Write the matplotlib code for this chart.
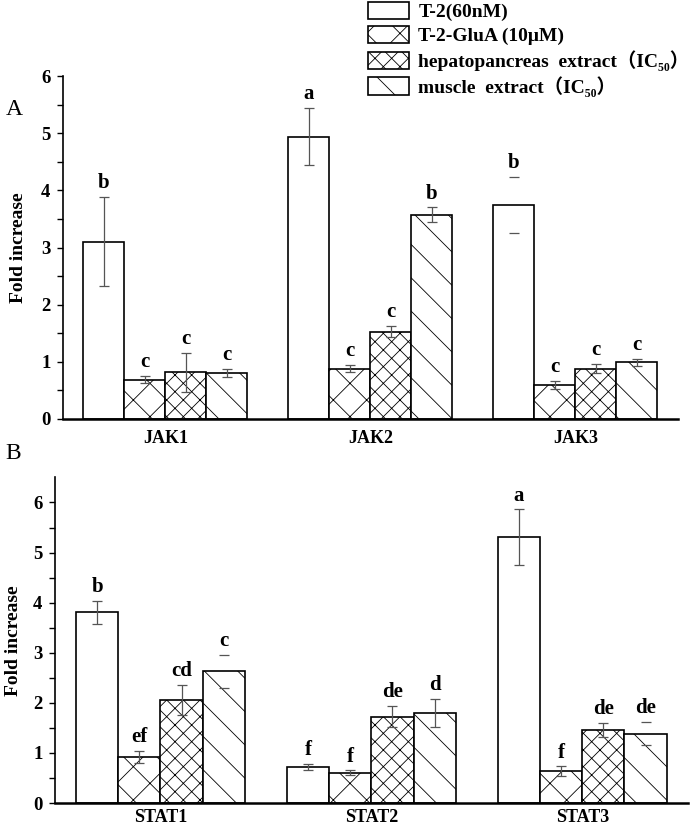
import matplotlib
matplotlib.use('Agg')
import matplotlib.pyplot as plt
import numpy as np

plt.rcParams['font.family'] = ['Liberation Serif', 'Noto Sans CJK SC', 'DejaVu Sans']
plt.rcParams['font.weight'] = 'bold'
plt.rcParams['hatch.linewidth'] = 0.6

series = ['T-2(60nM)', 'T-2-GluA (10μM)',
          'hepatopancreas  extract（IC₅₀）', 'muscle  extract（IC₅₀）']
hatches = ['', 'x', 'xx', '\\']

# panel A
genes_a = ['JAK1', 'JAK2', 'JAK3']
t2_a = [3.10, 4.94, 3.74]
glua_a = [0.69, 0.88, 0.60]
hep_a = [0.82, 1.53, 0.88]
mus_a = [0.80, 3.57, 0.99]
t2_a_err = [0.78, 0.50, 0.49]
glua_a_err = [0.06, 0.06, 0.07]
hep_a_err = [0.34, 0.10, 0.08]
mus_a_err = [0.07, 0.13, 0.06]
t2_a_let = ['b', 'a', 'b']
glua_a_let = ['c', 'c', 'c']
hep_a_let = ['c', 'c', 'c']
mus_a_let = ['c', 'b', 'c']

# panel B
genes_b = ['STAT1', 'STAT2', 'STAT3']
t2_b = [3.81, 0.72, 5.31]
glua_b = [0.92, 0.60, 0.63]
hep_b = [2.05, 1.72, 1.45]
mus_b = [2.63, 1.80, 1.38]
t2_b_err = [0.23, 0.06, 0.55]
glua_b_err = [0.12, 0.05, 0.10]
hep_b_err = [0.30, 0.21, 0.14]
mus_b_err = [0.33, 0.28, 0.23]
t2_b_let = ['b', 'f', 'a']
glua_b_let = ['ef', 'f', 'f']
hep_b_let = ['cd', 'de', 'de']
mus_b_let = ['c', 'd', 'de']

# error bars where only the caps show in the original
caps_only_a = [(0, 2)]
caps_only_b = [(3, 0), (3, 2)]

fig = plt.figure(figsize=(6.9, 8.3), dpi=100)
ax1 = fig.add_axes([0.0913, 0.4952, 0.8913, 0.4132])
ax2 = fig.add_axes([0.0797, 0.0325, 0.917, 0.3923])


def draw(ax, genes, vals, errs, lets, caps_only, ymax, xpad, ylpad):
    x = np.arange(len(genes))
    w = 0.2
    for i in range(4):
        xs = x + (i - 1.5) * w
        ax.bar(xs, vals[i], w, color='white', edgecolor='black',
               linewidth=1.2, hatch=hatches[i], zorder=2)
        for j in range(len(genes)):
            lw = 0 if (i, j) in caps_only else 0.9
            ax.errorbar(xs[j], vals[i][j], yerr=errs[i][j], fmt='none',
                        ecolor='#555555', elinewidth=lw, capsize=3.5,
                        capthick=0.9, zorder=3)
            ax.annotate(lets[i][j], (xs[j], vals[i][j] + errs[i][j]),
                        xytext=(0, 10), textcoords='offset points',
                        ha='center', va='center', fontsize=15,
                        fontweight='bold')
    ax.set_xlim(-0.5, 2.5)
    ax.set_ylim(0, ymax)
    ax.set_xticks(x)
    ax.set_xticklabels(genes, fontsize=13, fontweight='bold')
    ax.tick_params(axis='x', length=0, pad=xpad)
    ax.set_yticks(np.arange(0, 7, 1))
    ax.set_yticks(np.arange(0.5, ymax, 1), minor=True)
    ax.tick_params(axis='y', which='both', direction='out', length=4,
                   width=1, pad=5, labelsize=13.5)
    for lab in ax.get_yticklabels():
        lab.set_fontweight('bold')
    ax.spines['top'].set_visible(False)
    ax.spines['right'].set_visible(False)
    ax.spines['left'].set_linewidth(1.2)
    ax.spines['bottom'].set_linewidth(1.8)
    ax.set_ylabel('Fold increase', fontsize=14, fontweight='bold',
                  labelpad=ylpad)


draw(ax1, genes_a, [t2_a, glua_a, hep_a, mus_a],
     [t2_a_err, glua_a_err, hep_a_err, mus_a_err],
     [t2_a_let, glua_a_let, hep_a_let, mus_a_let], caps_only_a, 6, 8, 10)
draw(ax2, genes_b, [t2_b, glua_b, hep_b, mus_b],
     [t2_b_err, glua_b_err, hep_b_err, mus_b_err],
     [t2_b_let, glua_b_let, hep_b_let, mus_b_let], caps_only_b, 6.5, 4.5, 8)

fig.text(0.008, 0.862, 'A', fontsize=17, fontweight='normal')
fig.text(0.008, 0.447, 'B', fontsize=17, fontweight='normal')

handles = [plt.Rectangle((0, 0), 1, 1, facecolor='white', edgecolor='black',
                         linewidth=1.2, hatch=h) for h in hatches]
fig.legend(handles, series, loc='upper left', bbox_to_anchor=(0.533, 0.998),
           frameon=False, handlelength=2.1, handleheight=1.0,
           labelspacing=0.25, handletextpad=0.5, borderaxespad=0,
           borderpad=0, prop={'weight': 'bold', 'size': 14})

fig.savefig('out.png', dpi=100)
